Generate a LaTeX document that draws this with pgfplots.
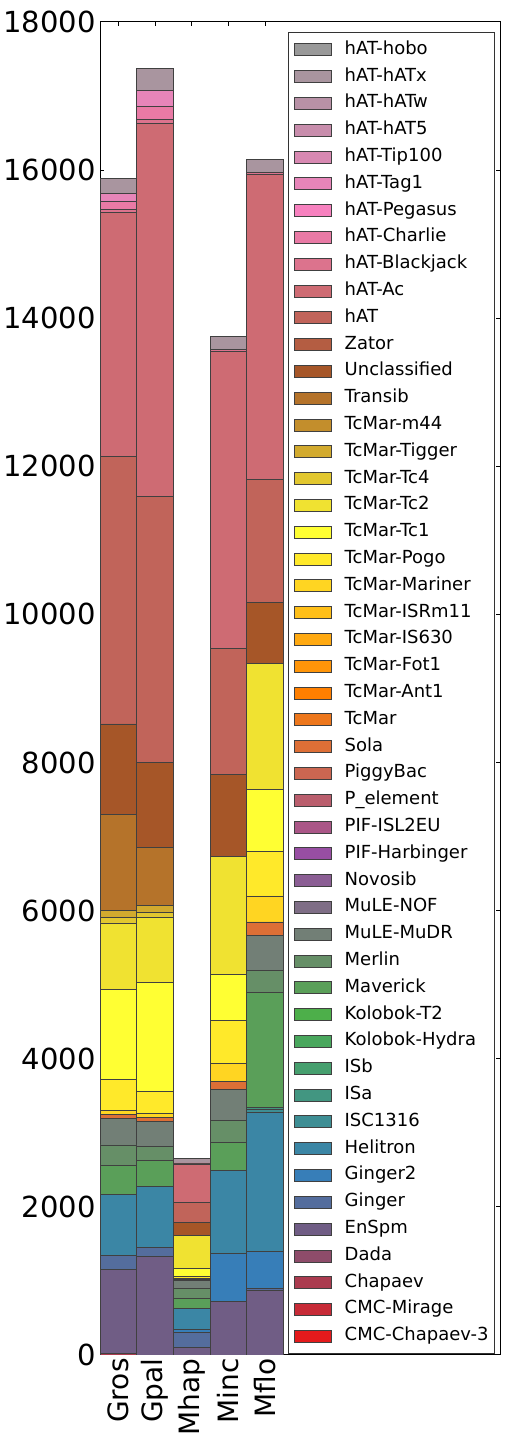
\documentclass[border=0pt]{standalone}
\usepackage{pgfplots}
\pgfplotsset{compat=1.18}
\usepackage{fontspec}
\setmainfont{DejaVu Sans}
\definecolor{S0}{HTML}{E41A1C}
\definecolor{S1}{HTML}{377EB8}
\definecolor{S2}{HTML}{4DAF4A}
\definecolor{S3}{HTML}{984EA3}
\definecolor{S4}{HTML}{FF7F00}
\definecolor{S5}{HTML}{FFFF33}
\definecolor{S6}{HTML}{A65628}
\definecolor{S7}{HTML}{F781BF}
\definecolor{S8}{HTML}{999999}
\colorlet{c0}{S0}
\colorlet{c1}{S1!17!S0}\colorlet{c2}{S1!33!S0}\colorlet{c3}{S1!50!S0}\colorlet{c4}{S1!67!S0}\colorlet{c5}{S1!83!S0}
\colorlet{c6}{S1}
\colorlet{c7}{S2!17!S1}\colorlet{c8}{S2!33!S1}\colorlet{c9}{S2!50!S1}\colorlet{c10}{S2!67!S1}\colorlet{c11}{S2!83!S1}
\colorlet{c12}{S2}
\colorlet{c13}{S3!17!S2}\colorlet{c14}{S3!33!S2}\colorlet{c15}{S3!50!S2}\colorlet{c16}{S3!67!S2}\colorlet{c17}{S3!83!S2}
\colorlet{c18}{S3}
\colorlet{c19}{S4!17!S3}\colorlet{c20}{S4!33!S3}\colorlet{c21}{S4!50!S3}\colorlet{c22}{S4!67!S3}\colorlet{c23}{S4!83!S3}
\colorlet{c24}{S4}
\colorlet{c25}{S5!17!S4}\colorlet{c26}{S5!33!S4}\colorlet{c27}{S5!50!S4}\colorlet{c28}{S5!67!S4}\colorlet{c29}{S5!83!S4}
\colorlet{c30}{S5}
\colorlet{c31}{S6!17!S5}\colorlet{c32}{S6!33!S5}\colorlet{c33}{S6!50!S5}\colorlet{c34}{S6!67!S5}\colorlet{c35}{S6!83!S5}
\colorlet{c36}{S6}
\colorlet{c37}{S7!17!S6}\colorlet{c38}{S7!33!S6}\colorlet{c39}{S7!50!S6}\colorlet{c40}{S7!67!S6}\colorlet{c41}{S7!83!S6}
\colorlet{c42}{S7}
\colorlet{c43}{S8!17!S7}\colorlet{c44}{S8!33!S7}\colorlet{c45}{S8!50!S7}\colorlet{c46}{S8!67!S7}\colorlet{c47}{S8!83!S7}
\colorlet{c48}{S8}
\begin{document}
\begin{tikzpicture}
\useasboundingbox (0,0) rectangle (255pt,719pt);
\begin{axis}[
  at={(50pt,41.5pt)}, anchor=south west,
  scale only axis, width=200pt, height=666.5pt,
  ybar stacked, bar width=1,
  xmin=0, xmax=10.9, ymin=0, ymax=18000,
  xtick={0.5,1.5,2.5,3.5,4.5},
  xticklabels={Gros,Gpal,Mhap,Minc,Mflo},
  ytick={0,2000,4000,6000,8000,10000,12000,14000,16000,18000},
  scaled y ticks=false,
  /pgf/number format/1000 sep={},
  /pgf/number format/assume math mode=true,
  tick label style={font=\fontsize{14.5}{16}\selectfont},
  yticklabel style={inner xsep=2pt},
  xticklabel style={rotate=90, anchor=east, inner xsep=1.5pt, font=\fontsize{14}{16}\selectfont},
  tick align=inside, major tick length=2pt,
  tick style={black, line width=0.5pt},
  axis line style={line width=0.5pt},
  reverse legend,
  legend cell align=left,
  legend style={at={(1,1)}, anchor=north east, xshift=-2.5pt, yshift=-5pt,
    draw=black!80, line width=0.5pt, fill=white,
    font=\fontsize{9}{10}\selectfont,
    inner xsep=3pt, inner ysep=2pt, row sep=0pt,
    nodes={inner xsep=0pt, inner ysep=2.7pt, text height=6.2pt, text depth=1.8pt}},
  every axis plot post/.append style={draw=black!75, line width=0.4pt,
    legend image code/.code={\draw[##1] (0pt,-3pt) rectangle (18.5pt,3pt); \path[draw=none,fill=none] (0pt,0pt) -- (25pt,0pt);}},
]
\addplot[fill=c0] coordinates {(0.5,0) (1.5,0) (2.5,0) (3.5,0) (4.5,0)}; \addlegendentry{CMC-Chapaev-3}
\addplot[fill=c1] coordinates {(0.5,0) (1.5,0) (2.5,0) (3.5,0) (4.5,0)}; \addlegendentry{CMC-Mirage}
\addplot[fill=c2] coordinates {(0.5,15) (1.5,0) (2.5,0) (3.5,0) (4.5,0)}; \addlegendentry{Chapaev}
\addplot[fill=c3] coordinates {(0.5,0) (1.5,0) (2.5,0) (3.5,0) (4.5,0)}; \addlegendentry{Dada}
\addplot[fill=c4] coordinates {(0.5,1145) (1.5,1331) (2.5,108) (3.5,724) (4.5,872)}; \addlegendentry{EnSpm}
\addplot[fill=c5] coordinates {(0.5,184) (1.5,125) (2.5,202) (3.5,0) (4.5,31)}; \addlegendentry{Ginger}
\addplot[fill=c6] coordinates {(0.5,0) (1.5,0) (2.5,32) (3.5,647) (4.5,495)}; \addlegendentry{Ginger2}
\addplot[fill=c7] coordinates {(0.5,827) (1.5,819) (2.5,283) (3.5,1119) (4.5,1874)}; \addlegendentry{Helitron}
\addplot[fill=c8] coordinates {(0.5,0) (1.5,0) (2.5,0) (3.5,0) (4.5,45)}; \addlegendentry{ISC1316}
\addplot[fill=c9] coordinates {(0.5,0) (1.5,0) (2.5,0) (3.5,0) (4.5,23)}; \addlegendentry{ISa}
\addplot[fill=c10] coordinates {(0.5,0) (1.5,0) (2.5,0) (3.5,0) (4.5,0)}; \addlegendentry{ISb}
\addplot[fill=c11] coordinates {(0.5,0) (1.5,0) (2.5,0) (3.5,0) (4.5,0)}; \addlegendentry{Kolobok-Hydra}
\addplot[fill=c12] coordinates {(0.5,0) (1.5,0) (2.5,0) (3.5,0) (4.5,0)}; \addlegendentry{Kolobok-T2}
\addplot[fill=c13] coordinates {(0.5,387) (1.5,350) (2.5,144) (3.5,378) (4.5,1550)}; \addlegendentry{Maverick}
\addplot[fill=c14] coordinates {(0.5,278) (1.5,189) (2.5,125) (3.5,296) (4.5,297)}; \addlegendentry{Merlin}
\addplot[fill=c15] coordinates {(0.5,359) (1.5,345) (2.5,108) (3.5,427) (4.5,480)}; \addlegendentry{MuLE-MuDR}
\addplot[fill=c16] coordinates {(0.5,0) (1.5,0) (2.5,0) (3.5,0) (4.5,0)}; \addlegendentry{MuLE-NOF}
\addplot[fill=c17] coordinates {(0.5,0) (1.5,0) (2.5,0) (3.5,0) (4.5,0)}; \addlegendentry{Novosib}
\addplot[fill=c18] coordinates {(0.5,0) (1.5,0) (2.5,0) (3.5,0) (4.5,0)}; \addlegendentry{PIF-Harbinger}
\addplot[fill=c19] coordinates {(0.5,0) (1.5,0) (2.5,0) (3.5,0) (4.5,0)}; \addlegendentry{PIF-ISL2EU}
\addplot[fill=c20] coordinates {(0.5,0) (1.5,0) (2.5,0) (3.5,0) (4.5,0)}; \addlegendentry{P\_element}
\addplot[fill=c21] coordinates {(0.5,0) (1.5,0) (2.5,0) (3.5,0) (4.5,0)}; \addlegendentry{PiggyBac}
\addplot[fill=c22] coordinates {(0.5,54) (1.5,46) (2.5,13) (3.5,108) (4.5,180)}; \addlegendentry{Sola}
\addplot[fill=c23] coordinates {(0.5,0) (1.5,0) (2.5,0) (3.5,0) (4.5,0)}; \addlegendentry{TcMar}
\addplot[fill=c24] coordinates {(0.5,0) (1.5,0) (2.5,0) (3.5,0) (4.5,0)}; \addlegendentry{TcMar-Ant1}
\addplot[fill=c25] coordinates {(0.5,0) (1.5,0) (2.5,0) (3.5,0) (4.5,0)}; \addlegendentry{TcMar-Fot1}
\addplot[fill=c26] coordinates {(0.5,0) (1.5,0) (2.5,0) (3.5,0) (4.5,0)}; \addlegendentry{TcMar-IS630}
\addplot[fill=c27] coordinates {(0.5,0) (1.5,0) (2.5,0) (3.5,0) (4.5,0)}; \addlegendentry{TcMar-ISRm11}
\addplot[fill=c28] coordinates {(0.5,58) (1.5,58) (2.5,15) (3.5,238) (4.5,351)}; \addlegendentry{TcMar-Mariner}
\addplot[fill=c29] coordinates {(0.5,419) (1.5,301) (2.5,31) (3.5,575) (4.5,607)}; \addlegendentry{TcMar-Pogo}
\addplot[fill=c30] coordinates {(0.5,1213) (1.5,1461) (2.5,103) (3.5,625) (4.5,831)}; \addlegendentry{TcMar-Tc1}
\addplot[fill=c31] coordinates {(0.5,895) (1.5,890) (2.5,445) (3.5,1600) (4.5,1704)}; \addlegendentry{TcMar-Tc2}
\addplot[fill=c32] coordinates {(0.5,72) (1.5,67) (2.5,0) (3.5,0) (4.5,0)}; \addlegendentry{TcMar-Tc4}
\addplot[fill=c33] coordinates {(0.5,98) (1.5,90) (2.5,0) (3.5,0) (4.5,0)}; \addlegendentry{TcMar-Tigger}
\addplot[fill=c34] coordinates {(0.5,0) (1.5,0) (2.5,0) (3.5,0) (4.5,0)}; \addlegendentry{TcMar-m44}
\addplot[fill=c35] coordinates {(0.5,1295) (1.5,787) (2.5,0) (3.5,0) (4.5,0)}; \addlegendentry{Transib}
\addplot[fill=c36] coordinates {(0.5,1222) (1.5,1146) (2.5,180) (3.5,1097) (4.5,822)}; \addlegendentry{Unclassified}
\addplot[fill=c37] coordinates {(0.5,0) (1.5,0) (2.5,0) (3.5,0) (4.5,0)}; \addlegendentry{Zator}
\addplot[fill=c38] coordinates {(0.5,3609) (1.5,3586) (2.5,270) (3.5,1712) (4.5,1658)}; \addlegendentry{hAT}
\addplot[fill=c39] coordinates {(0.5,3294) (1.5,5043) (2.5,521) (3.5,4000) (4.5,4117)}; \addlegendentry{hAT-Ac}
\addplot[fill=c40] coordinates {(0.5,50) (1.5,54) (2.5,13) (3.5,31) (4.5,31)}; \addlegendentry{hAT-Blackjack}
\addplot[fill=c41] coordinates {(0.5,104) (1.5,170) (2.5,0) (3.5,0) (4.5,0)}; \addlegendentry{hAT-Charlie}
\addplot[fill=c42] coordinates {(0.5,0) (1.5,0) (2.5,0) (3.5,0) (4.5,0)}; \addlegendentry{hAT-Pegasus}
\addplot[fill=c43] coordinates {(0.5,112) (1.5,215) (2.5,0) (3.5,0) (4.5,0)}; \addlegendentry{hAT-Tag1}
\addplot[fill=c44] coordinates {(0.5,0) (1.5,0) (2.5,0) (3.5,0) (4.5,0)}; \addlegendentry{hAT-Tip100}
\addplot[fill=c45] coordinates {(0.5,0) (1.5,0) (2.5,0) (3.5,0) (4.5,0)}; \addlegendentry{hAT-hAT5}
\addplot[fill=c46] coordinates {(0.5,0) (1.5,0) (2.5,0) (3.5,0) (4.5,0)}; \addlegendentry{hAT-hATw}
\addplot[fill=c47] coordinates {(0.5,202) (1.5,302) (2.5,59) (3.5,180) (4.5,171)}; \addlegendentry{hAT-hATx}
\addplot[fill=c48] coordinates {(0.5,0) (1.5,0) (2.5,0) (3.5,0) (4.5,0)}; \addlegendentry{hAT-hobo}
\end{axis}
\end{tikzpicture}
\end{document}
